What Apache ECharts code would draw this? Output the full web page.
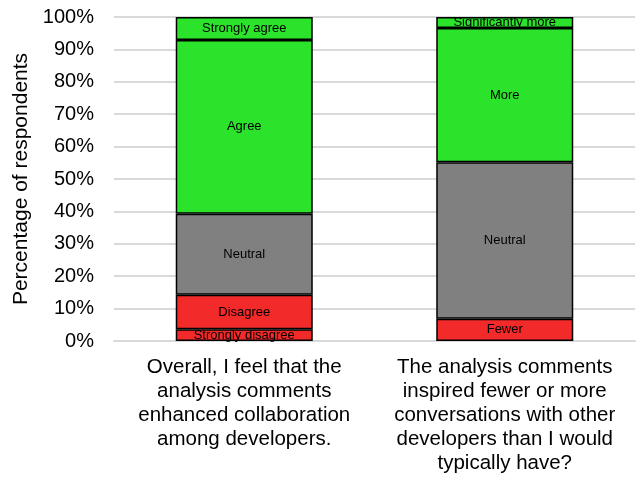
<!DOCTYPE html>
<html>
<head>
<meta charset="utf-8">
<script src="https://cdn.jsdelivr.net/npm/echarts@6/dist/echarts.min.js"></script>
<style>
  html, body { margin: 0; padding: 0; background: #fff; }
  #chart { width: 636px; height: 477px; }
</style>
</head>
<body>
<div id="chart"></div>
<script>
// categories (x-axis labels)
const categories = [
  'Overall, I feel that the\nanalysis comments\nenhanced collaboration\namong developers.',
  'The analysis comments\ninspired fewer or more\nconversations with other\ndevelopers than I would\ntypically have?'
];

// percentage of respondents per answer, stacked bottom to top
// first bar: n = 28, second bar: n = 29
const stronglyDisagree = [3.6, '-'];
const fewer = ['-', 6.9];
const disagree = [10.7, '-'];
const neutral = [25.0, 48.3];
const agree = [53.6, '-'];
const more = ['-', 41.4];
const stronglyAgree = [7.1, '-'];
const significantlyMore = ['-', 3.4];

const yTicks = [0, 10, 20, 30, 40, 50, 60, 70, 80, 90, 100];

const RED = '#f22a2a';
const GREY = '#808080';
const GREEN = '#2ae32a';
const FONT = 'Liberation Sans, Arial, sans-serif';

const makeSeries = (name, data, color) => ({
  name: name,
  type: 'bar',
  stack: 'total',
  barWidth: '52.6%',
  data: data,
  itemStyle: { color: color, borderColor: '#000', borderWidth: 1.5 },
  label: {
    show: true,
    position: 'inside',
    formatter: name,
    color: '#000',
    fontFamily: FONT,
    fontSize: 13
  },
  emphasis: { disabled: true }
});

const chart = echarts.init(document.getElementById('chart'));

chart.setOption({
  animation: false,
  backgroundColor: '#fff',
  grid: { left: 114, right: 1, top: 17, bottom: 136 },
  xAxis: {
    type: 'category',
    data: categories,
    axisLine: { lineStyle: { color: '#d9d9d9', width: 2 } },
    axisTick: { show: false },
    axisLabel: {
      interval: 0,
      margin: 14,
      color: '#000',
      fontFamily: FONT,
      fontSize: 20.5,
      lineHeight: 24,
      align: 'center'
    }
  },
  yAxis: {
    type: 'value',
    min: yTicks[0],
    max: yTicks[yTicks.length - 1],
    interval: 10,
    name: 'Percentage of respondents',
    nameLocation: 'middle',
    nameGap: 77,
    nameTextStyle: {
      color: '#000',
      fontFamily: FONT,
      fontSize: 21
    },
    axisLine: { show: false },
    axisTick: { show: false },
    splitLine: { lineStyle: { color: '#d9d9d9', width: 2 } },
    axisLabel: {
      margin: 20,
      color: '#000',
      fontFamily: FONT,
      fontSize: 20,
      formatter: '{value}%'
    }
  },
  series: [
    makeSeries('Strongly disagree', stronglyDisagree, RED),
    makeSeries('Fewer', fewer, RED),
    makeSeries('Disagree', disagree, RED),
    makeSeries('Neutral', neutral, GREY),
    makeSeries('Agree', agree, GREEN),
    makeSeries('More', more, GREEN),
    makeSeries('Strongly agree', stronglyAgree, GREEN),
    makeSeries('Significantly more', significantlyMore, GREEN)
  ]
});
</script>
</body>
</html>
